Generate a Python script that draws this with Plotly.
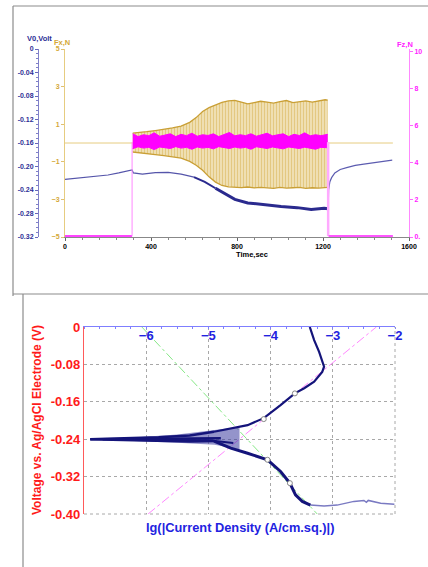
import plotly.graph_objects as go

W, H = 428, 567


def px(x):
    return x / W


def py(y):
    return 1 - y / H


FONT = "Arial, Liberation Sans, sans-serif"

# ---------------- top chart data ----------------
time_ticks = [0, 400, 800, 1200, 1600]
v0_ticks = [0, -0.04, -0.08, -0.12, -0.16, -0.20, -0.24, -0.28, -0.32]
v0_ticktext = ["0", "-0.04", "-0.08", "-0.12", "-0.16", "-0.20", "-0.24", "-0.28", "-0.32"]
fx_ticks = [5, 3, 1, -1, -3, -5]
fz_ticks = [10, 8, 6, 4, 2, 0]
fz_ticktext = ["10", "8", "6", "4", "2", "0."]

# Fx (N): flat before / after, oscillation envelope during sliding
fx_pre_t = [0, 315]
fx_pre = [0.0, 0.0]
fx_post_t = [1222, 1525]
fx_post = [0.0, 0.0]
fx_env_t = [315, 340, 380, 420, 460, 500, 540, 580, 610, 640, 670, 700, 730, 760, 790,
            820, 850, 880, 910, 940, 970, 1000, 1030, 1060, 1090, 1120, 1150, 1180, 1210, 1222]
fx_hi = [0.53, 0.55, 0.60, 0.66, 0.72, 0.80, 0.90, 1.10, 1.35, 1.68, 1.88, 2.03, 2.16, 2.24, 2.27,
         2.18, 2.08, 2.15, 2.22, 2.18, 2.12, 2.20, 2.26, 2.15, 2.20, 2.24, 2.18, 2.26, 2.30, 2.28]
fx_lo = [-0.48, -0.52, -0.56, -0.62, -0.67, -0.72, -0.80, -0.98, -1.18, -1.45, -1.80, -2.08, -2.26, -2.33, -2.35,
         -2.37, -2.34, -2.39, -2.36, -2.38, -2.41, -2.36, -2.40, -2.38, -2.36, -2.41, -2.38, -2.40, -2.38, -2.36]

# Fz (N)
fz_pre_t = [0, 312]
fz_pre = [0.05, 0.05]
fz_up_t = [312, 312]
fz_up = [0.05, 5.1]
fz_band_t = [315, 340, 365, 390, 415, 440, 465, 490, 515, 540, 565, 590, 615, 640, 665, 690, 715, 740, 765,
             790, 815, 840, 865, 890, 915, 940, 965, 990, 1015, 1040, 1065, 1090, 1115, 1140, 1165, 1190, 1222]
fz_hi = [5.55, 5.40, 5.50, 5.45, 5.60, 5.42, 5.48, 5.55, 5.40, 5.52, 5.45, 5.58, 5.42, 5.50, 5.46, 5.55, 5.40,
         5.50, 5.62, 5.44, 5.50, 5.45, 5.55, 5.42, 5.50, 5.58, 5.44, 5.48, 5.55, 5.40, 5.52, 5.46, 5.60, 5.44,
         5.50, 5.45, 5.52]
fz_lo = [4.75, 4.85, 4.78, 4.82, 4.70, 4.84, 4.80, 4.76, 4.86, 4.78, 4.82, 4.72, 4.84, 4.78, 4.82, 4.74, 4.86,
         4.80, 4.76, 4.84, 4.78, 4.82, 4.72, 4.85, 4.80, 4.76, 4.84, 4.78, 4.74, 4.84, 4.80, 4.76, 4.83, 4.78,
         4.72, 4.82, 4.80]
fz_down_t = [1224, 1224]
fz_down = [5.1, 0.05]
fz_post_t = [1226, 1525]
fz_post = [0.05, 0.05]

# V0 (Volt)
v0_t = [0, 50, 100, 150, 200, 250, 300, 312, 318, 360, 420, 480, 540, 600, 650, 700, 740, 790, 850, 925,
        1005, 1080, 1145, 1205, 1224, 1226, 1232, 1240, 1255, 1280, 1310, 1350, 1390, 1440, 1480, 1522]
v0 = [-0.222, -0.220, -0.219, -0.217, -0.2145, -0.211, -0.207, -0.206, -0.211, -0.213, -0.2105, -0.210,
      -0.213, -0.218, -0.226, -0.237, -0.245, -0.256, -0.262, -0.2655, -0.268, -0.270, -0.273, -0.271,
      -0.272, -0.240, -0.226, -0.219, -0.211, -0.205, -0.202, -0.198, -0.196, -0.193, -0.191, -0.189]

# ---------------- bottom chart (Tafel) data ----------------
lg_ticks = [-6, -5, -4, -3, -2]
volt_ticks = [0, -0.08, -0.16, -0.24, -0.32, -0.40]
volt_ticktext = ["0", "-0.08", "-0.16", "-0.24", "-0.32", "-0.40"]

anodic_lg = [-3.37, -3.30, -3.22, -3.14, -3.17, -3.30, -3.46, -3.61, -3.84, -4.11, -4.37, -4.70, -4.91]
anodic_v = [0.0, -0.028, -0.053, -0.085, -0.096, -0.117, -0.131, -0.142, -0.167, -0.195, -0.210, -0.219, -0.224]
spike_up_lg = [-4.91, -5.3, -5.8, -6.4, -6.9]
spike_up_v = [-0.224, -0.232, -0.236, -0.2385, -0.240]
spike_lo_lg = [-6.9, -6.4, -5.8, -5.3, -4.91]
spike_lo_v = [-0.240, -0.2415, -0.243, -0.245, -0.244]
spike_mid_lg = [-6.7, -6.0, -5.4, -4.8]
spike_mid_v = [-0.2402, -0.2398, -0.2390, -0.2380]
spike_mid2_lg = [-6.2, -5.6, -5.0, -4.6]
spike_mid2_v = [-0.2412, -0.2418, -0.2425, -0.2480]
halo_lg = [-6.9, -6.2, -5.5, -4.9, -4.5, -4.5, -4.9, -5.5, -6.2, -6.9]
halo_v = [-0.240, -0.2365, -0.230, -0.221, -0.214, -0.262, -0.252, -0.2475, -0.2435, -0.240]
cathodic_lg = [-4.91, -4.64, -4.37, -4.05, -3.84, -3.69, -3.60, -3.49, -3.36]
cathodic_v = [-0.244, -0.259, -0.270, -0.284, -0.309, -0.334, -0.359, -0.373, -0.381]
tail_lg = [-3.36, -3.14, -2.93, -2.66, -2.50, -2.46, -2.43, -2.23, -2.01]
tail_v = [-0.381, -0.383, -0.381, -0.373, -0.371, -0.375, -0.371, -0.377, -0.379]
cath_fit_lg = [-6.07, -3.25]
cath_fit_v = [0.0, -0.40]
anod_fit_lg = [-5.97, -2.30]
anod_fit_v = [-0.40, 0.0]
mark_lg = [-3.61, -4.11, -4.05, -3.69]
mark_v = [-0.142, -0.197, -0.284, -0.334]

NAVY = "#2A2A8E"
DARK = "#14147A"
MAG = "#FF00FF"

fig = go.Figure()

# ---- Fx (yaxis) ----
fig.add_trace(go.Scatter(x=fx_pre_t, y=fx_pre, mode="lines", line=dict(color="#E6CC80", width=1),
                         xaxis="x", yaxis="y"))
fig.add_trace(go.Scatter(x=fx_env_t, y=fx_hi, mode="lines", line=dict(color="#C99F35", width=1.3),
                         xaxis="x", yaxis="y"))
fig.add_trace(go.Scatter(x=fx_env_t, y=fx_lo, mode="lines", line=dict(color="#C99F35", width=1.3),
                         fill="tonexty", fillcolor="#EEDFB2",
                         fillpattern=dict(shape="|", size=3, solidity=0.45, fgcolor="#D6AC45",
                                          bgcolor="#F1E4BC"),
                         xaxis="x", yaxis="y"))
fig.add_trace(go.Scatter(x=fx_post_t, y=fx_post, mode="lines", line=dict(color="#E6CC80", width=1),
                         xaxis="x", yaxis="y"))

# ---- V0 (yaxis2) ----
fig.add_trace(go.Scatter(x=v0_t[:14], y=v0[:14], mode="lines", line=dict(color="#5555AA", width=1.2),
                         xaxis="x", yaxis="y2"))
fig.add_trace(go.Scatter(x=v0_t[13:16], y=v0[13:16], mode="lines", line=dict(color=NAVY, width=2),
                         xaxis="x", yaxis="y2"))
fig.add_trace(go.Scatter(x=v0_t[15:25], y=v0[15:25], mode="lines", line=dict(color=NAVY, width=3),
                         xaxis="x", yaxis="y2"))
fig.add_trace(go.Scatter(x=v0_t[24:], y=v0[24:], mode="lines", line=dict(color="#5C5CB0", width=1.2),
                         xaxis="x", yaxis="y2"))

# ---- Fz (yaxis3) ----
fig.add_trace(go.Scatter(x=fz_pre_t, y=fz_pre, mode="lines", line=dict(color="#FF44FF", width=2),
                         xaxis="x", yaxis="y3"))
fig.add_trace(go.Scatter(x=fz_up_t, y=fz_up, mode="lines", line=dict(color="#FF88FF", width=1),
                         xaxis="x", yaxis="y3"))
fig.add_trace(go.Scatter(x=fz_band_t, y=fz_hi, mode="lines", line=dict(color=MAG, width=1),
                         xaxis="x", yaxis="y3"))
fig.add_trace(go.Scatter(x=fz_band_t, y=fz_lo, mode="lines", line=dict(color=MAG, width=1),
                         fill="tonexty", fillcolor=MAG, xaxis="x", yaxis="y3"))
fig.add_trace(go.Scatter(x=fz_down_t, y=fz_down, mode="lines", line=dict(color="#FFAAFF", width=2.5),
                         xaxis="x", yaxis="y3"))
fig.add_trace(go.Scatter(x=fz_post_t, y=fz_post, mode="lines", line=dict(color="#FF55FF", width=2),
                         xaxis="x", yaxis="y3"))

# ---- Tafel (x2 / y4) ----
fig.add_trace(go.Scatter(x=cath_fit_lg, y=cath_fit_v, mode="lines",
                         line=dict(color="#86E886", width=1, dash="dashdot"), xaxis="x2", yaxis="y4"))
fig.add_trace(go.Scatter(x=anod_fit_lg, y=anod_fit_v, mode="lines",
                         line=dict(color="#FF88FF", width=1, dash="dashdot"), xaxis="x2", yaxis="y4"))
fig.add_trace(go.Scatter(x=halo_lg, y=halo_v, mode="lines", line=dict(width=0), fill="toself",
                         fillcolor="rgba(60,60,160,0.55)", xaxis="x2", yaxis="y4"))
fig.add_trace(go.Scatter(x=tail_lg, y=tail_v, mode="lines", line=dict(color="#7A7AC2", width=1.5),
                         xaxis="x2", yaxis="y4"))
fig.add_trace(go.Scatter(x=anodic_lg, y=anodic_v, mode="lines", line=dict(color=DARK, width=2.2),
                         xaxis="x2", yaxis="y4"))
for lx, ly, lw in [(spike_up_lg, spike_up_v, 2.5), (spike_mid_lg, spike_mid_v, 2.5),
                   (spike_mid2_lg, spike_mid2_v, 2), (spike_lo_lg, spike_lo_v, 2.5)]:
    fig.add_trace(go.Scatter(x=lx, y=ly, mode="lines", line=dict(color=DARK, width=lw),
                             xaxis="x2", yaxis="y4"))
fig.add_trace(go.Scatter(x=cathodic_lg, y=cathodic_v, mode="lines", line=dict(color=DARK, width=3),
                         xaxis="x2", yaxis="y4"))
fig.add_trace(go.Scatter(x=mark_lg, y=mark_v, mode="markers",
                         marker=dict(symbol="circle", size=5, color="white", line=dict(color="#888888", width=1)),
                         xaxis="x2", yaxis="y4"))

small_bold = dict(family=FONT, size=7, weight="bold")

fig.update_layout(
    width=W, height=H, margin=dict(l=0, r=0, t=0, b=0, autoexpand=False),
    paper_bgcolor="white", plot_bgcolor="rgba(0,0,0,0)",
    showlegend=False, font=dict(family=FONT),
    xaxis=dict(domain=[px(65), px(409)], range=[0, 1600], anchor="y",
               tickvals=time_ticks, ticks="outside", ticklen=3, tickcolor="#666666",
               showline=True, linecolor="#888888", linewidth=1, showgrid=False, zeroline=False,
               tickfont=dict(color="black", **small_bold),
               minor=dict(dtick=80, ticks="outside", ticklen=2, tickcolor="#888888")),
    yaxis=dict(domain=[py(237), py(49)], range=[-5, 5], anchor="x", side="left",
               tickvals=fx_ticks, ticks="outside", ticklen=3, tickcolor="#E0C070",
               showline=True, linecolor="#E6CC80", linewidth=1, showgrid=False, zeroline=False,
               tickfont=dict(color="#D4A838", **small_bold)),
    yaxis2=dict(domain=[py(237), py(49)], range=[-0.32, 0], overlaying="y", anchor="free",
                position=px(38), side="left",
                tickvals=v0_ticks, ticktext=v0_ticktext, ticks="outside", ticklen=3, tickcolor="#6666BB",
                showline=True, linecolor="#8080C8", linewidth=1, showgrid=False, zeroline=False,
                tickfont=dict(color="#2E2E96", **small_bold),
                minor=dict(dtick=0.008, ticks="outside", ticklen=2, tickcolor="#8080C8")),
    yaxis3=dict(domain=[py(237), py(49)], range=[0, 10.11], overlaying="y", anchor="x", side="right",
                tickvals=fz_ticks, ticktext=fz_ticktext, ticks="outside", ticklen=3, tickcolor="#FF66FF",
                showline=True, linecolor="#FF88FF", linewidth=1, showgrid=False, zeroline=False,
                tickfont=dict(color="#FF22FF", **small_bold)),
    xaxis2=dict(domain=[px(84), px(395)], range=[-7, -2], anchor="y4", side="top",
                tickvals=lg_ticks, ticks="", ticklabelstandoff=-19,
                showline=True, linecolor="#7F7FFF", linewidth=1.2,
                showgrid=True, gridcolor="#A8A8A8", griddash="dot", gridwidth=1, zeroline=False,
                tickfont=dict(family=FONT, size=13, color="#2222E0", weight="bold"),
                minor=dict(dtick=0.25, ticks="inside", ticklen=2, tickcolor="#7F7FFF", showgrid=False)),
    yaxis4=dict(domain=[py(514), py(327)], range=[-0.40, 0], anchor="x2",
                tickvals=volt_ticks, ticktext=volt_ticktext, ticks="",
                showline=True, linecolor="#FF5A5A", linewidth=1.2,
                showgrid=True, gridcolor="#A8A8A8", griddash="dot", gridwidth=1, zeroline=False,
                tickfont=dict(family=FONT, size=13, color="#FF1A1A", weight="bold")),
)

# edge dotted grid lines of the Tafel plot
fig.add_shape(type="line", xref="x2 domain", yref="y4 domain", x0=1, x1=1, y0=0, y1=1,
              line=dict(color="#A8A8A8", width=1, dash="dot"))
fig.add_shape(type="line", xref="x2 domain", yref="y4 domain", x0=0, x1=1, y0=0, y1=0,
              line=dict(color="#A8A8A8", width=1, dash="dot"))

# panel frames
frame = dict(color="#8C8C8C", width=1.2)
fig.add_shape(type="line", xref="paper", yref="paper", x0=px(13), x1=1, y0=py(6), y1=py(6), line=frame)
fig.add_shape(type="line", xref="paper", yref="paper", x0=px(13), x1=px(13), y0=py(6), y1=py(296), line=frame)
fig.add_shape(type="line", xref="paper", yref="paper", x0=px(13), x1=1, y0=py(294), y1=py(294), line=frame)
fig.add_shape(type="line", xref="paper", yref="paper", x0=px(23), x1=px(23), y0=py(294), y1=0, line=frame)


def ann(text, x, y, color, size, angle=0):
    fig.add_annotation(text=text, x=px(x), y=py(y), xref="paper", yref="paper", showarrow=False,
                       xanchor="center", yanchor="middle", textangle=angle,
                       font=dict(family=FONT, size=size, color=color, weight="bold"))


ann("V0,Volt", 39.5, 38.5, "#2E2E96", 7.5)
ann("Fx,N", 62, 42.5, "#D4A838", 7.5)
ann("Fz,N", 405, 44, "#FF22FF", 7.5)
ann("Time,sec", 252, 254, "black", 7.5)
ann("Voltage vs. Ag/AgCl Electrode (V)", 37, 420, "#FF1A1A", 12, -90)
ann("lg(|Current Density (A/cm.sq.)|)", 240, 527, "#2222E0", 12.8)

fig.write_html("out.html", config={"displayModeBar": False},
               post_script="document.body.style.margin='0';document.body.style.overflow='hidden';")
